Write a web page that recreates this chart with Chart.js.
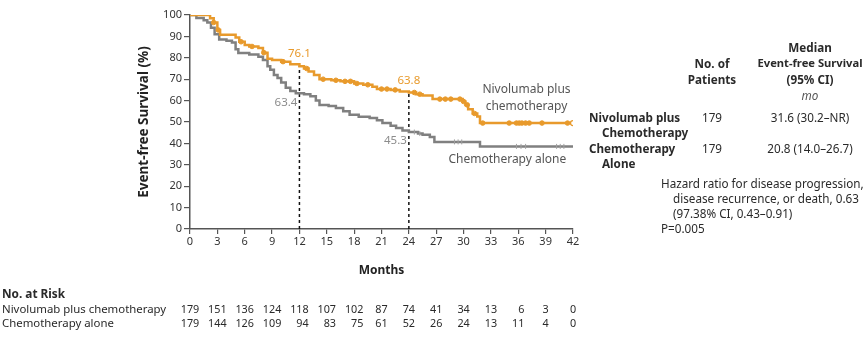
<!DOCTYPE html>
<html>
<head>
<meta charset="utf-8">
<script src="https://cdn.jsdelivr.net/npm/chart.js@4.4.1/dist/chart.umd.min.js"></script>
<style>
  html, body { margin: 0; padding: 0; background: #fff; }
  #wrap { position: relative; width: 865px; height: 338px; overflow: hidden; font-family: "Noto Sans", sans-serif; color: #2a2a2a; }
  #chart { position: absolute; left: 0; top: 0; }
  .t { position: absolute; font-size: 11.7px; line-height: 14px; white-space: nowrap; }
  .b { font-weight: bold; }
  .col { position: absolute; transform: translateX(-50%); text-align: right; font-size: 10.8px; line-height: 14px; white-space: nowrap; }
</style>
</head>
<body>
<div id="wrap">
  <canvas id="chart" width="865" height="338"></canvas>
</div>
<script>
// Kaplan-Meier steps: [month, event-free survival %]
const nivoCurve = [
  [0, 100], [2.2, 98.5], [2.6, 96.5], [3.0, 93], [3.3, 90.8], [5.0, 89.5], [5.4, 87.5],
  [6.0, 86], [6.5, 85.3], [7.5, 84.6], [8.0, 82.4], [8.5, 79.5], [9.0, 79], [10.0, 78.2],
  [11.0, 77], [12.0, 76.1], [12.5, 75], [13.0, 73.6], [13.6, 72], [14.2, 70], [15.5, 69.5],
  [16.5, 69], [18.0, 68], [19.0, 67.4], [20.0, 66.5], [20.5, 65.4], [22.0, 65], [23.0, 64.2],
  [24.0, 63.8], [24.8, 63], [25.5, 62.4], [26.6, 60.7], [29.9, 59.6], [30.2, 58], [30.5, 56],
  [31.0, 54], [31.5, 52.6], [31.8, 49.5], [42, 49.5]
];
const chemoCurve = [
  [0, 100], [0.7, 98.6], [1.5, 97.5], [1.9, 96.5], [2.3, 94], [2.7, 91], [3.2, 88.6],
  [4.0, 88], [4.6, 87.2], [5.0, 84], [5.3, 82.2], [6.5, 81.5], [7.5, 80.5], [8.0, 79],
  [8.5, 76], [8.8, 74.4], [9.2, 72], [9.6, 70.6], [10.0, 68.5], [10.5, 66], [11.0, 64.5],
  [11.6, 63.4], [12.5, 63], [13.2, 62], [13.8, 60], [14.2, 58], [15.2, 57.5], [16.0, 56.5],
  [16.8, 55], [17.5, 53.4], [18.5, 52.5], [19.7, 51.9], [20.5, 50.8], [21.1, 49.5],
  [22.0, 48.3], [22.6, 47.2], [23.3, 46], [24.0, 45.3], [25.0, 44.6], [25.5, 44], [26.3, 43],
  [26.8, 40.7], [31.8, 38.6], [42, 38.6]
];
// censoring marks
const nivoCensored = [
  [2.6, 96.5], [3.1, 93], [5.6, 87.5], [6.8, 85.3], [8.1, 82.4], [10.2, 78.2], [12.8, 75],
  [14.6, 70], [16.0, 69.5], [17.0, 69], [17.6, 69], [18.3, 68], [19.5, 67.4], [21.0, 65.4],
  [21.6, 65.4], [22.5, 65], [24.6, 63.8], [25.2, 63], [27.4, 60.7], [28.0, 60.7], [28.6, 60.7],
  [29.6, 60.7], [30.0, 59.6], [30.4, 58], [31.2, 54], [32.1, 49.5], [35.0, 49.5], [35.8, 49.5],
  [36.1, 49.5], [36.4, 49.5], [36.8, 49.5], [37.2, 49.5], [38.6, 49.5], [41.4, 49.5]
];
const nivoCensoredOpen = [[42, 49.5]];
const chemoCensored = [
  [24.6, 45.3], [25.2, 44.6], [29.0, 40.7], [29.4, 40.7], [29.8, 40.7], [35.8, 38.6],
  [36.3, 38.6], [36.8, 38.6], [40.2, 38.6], [40.6, 38.6], [41.0, 38.6]
];
// landmark estimates
const landmarkMonths = [12, 24];
const nivoLandmarks = [76.1, 63.8];
const chemoLandmarks = [63.4, 45.3];

const monthTicks = [0, 3, 6, 9, 12, 15, 18, 21, 24, 27, 30, 33, 36, 39, 42];
const survivalTicks = [0, 10, 20, 30, 40, 50, 60, 70, 80, 90, 100];

// numbers at risk
const riskGroups = ["Nivolumab plus chemotherapy", "Chemotherapy alone"];
const nivoAtRisk = [179, 151, 136, 124, 118, 107, 102, 87, 74, 41, 34, 13, 6, 3, 0];
const chemoAtRisk = [179, 144, 126, 109, 94, 83, 75, 61, 52, 26, 24, 13, 11, 4, 0];

const ORANGE = "#e89a2c";
const GRAY = "#808080";
const INK = "#333";
const FONT = "'Noto Sans', sans-serif";

const toXY = (arr) => arr.map(([x, y]) => ({ x, y }));

const landmarkLines = landmarkMonths.map((m, i) => ({
  type: "line",
  data: [{ x: m, y: 0 }, { x: m, y: Math.max(nivoLandmarks[i], chemoLandmarks[i]) }],
  borderColor: "#111",
  borderWidth: 1.5,
  borderDash: [3, 3],
  pointRadius: 0,
  order: 5
}));

const labelPlugin = {
  id: "kmLabels",
  afterDatasetsDraw(chart) {
    const { ctx, scales: { x, y } } = chart;
    ctx.save();
    ctx.font = "11.5px " + FONT;
    ctx.textBaseline = "middle";
    landmarkMonths.forEach((m, i) => {
      ctx.fillStyle = ORANGE;
      ctx.textAlign = "center";
      ctx.fillText(nivoLandmarks[i].toFixed(1), x.getPixelForValue(m), y.getPixelForValue(nivoLandmarks[i]) - 12);
      ctx.fillStyle = "#8c8c8c";
      ctx.textAlign = "right";
      ctx.fillText(chemoLandmarks[i].toFixed(1), x.getPixelForValue(m) - 2, y.getPixelForValue(chemoLandmarks[i]) + 9);
    });
    ctx.font = "12px " + FONT;
    ctx.fillStyle = "#555";
    ctx.textAlign = "center";
    ctx.fillText("Nivolumab plus", x.getPixelForValue(36.9), y.getPixelForValue(65.1));
    ctx.fillText("chemotherapy", x.getPixelForValue(36.9), y.getPixelForValue(57.1));
    ctx.fillText("Chemotherapy alone", x.getPixelForValue(34.8), y.getPixelForValue(32.4));
    ctx.restore();
  }
};

const chart = new Chart(document.getElementById("chart"), {
  type: "line",
  data: {
    datasets: [
      {
        data: toXY(nivoCurve),
        borderColor: ORANGE,
        borderWidth: 2.5,
        stepped: true,
        pointRadius: 0,
        order: 2
      },
      {
        data: toXY(chemoCurve),
        borderColor: GRAY,
        borderWidth: 2.5,
        stepped: true,
        pointRadius: 0,
        order: 3
      },
      {
        type: "scatter",
        data: toXY(nivoCensored),
        pointStyle: "circle",
        pointRadius: 2.3,
        backgroundColor: ORANGE,
        borderColor: ORANGE,
        borderWidth: 1,
        order: 1
      },
      {
        type: "scatter",
        data: toXY(nivoCensoredOpen),
        pointStyle: "circle",
        pointRadius: 2.5,
        backgroundColor: "#fff",
        borderColor: ORANGE,
        borderWidth: 1.3,
        order: 1
      },
      {
        type: "scatter",
        data: toXY(chemoCensored),
        pointStyle: "line",
        rotation: 90,
        pointRadius: 2.5,
        borderColor: "#a0a0a0",
        borderWidth: 1,
        order: 1
      },
      ...landmarkLines
    ]
  },
  options: {
    responsive: false,
    animation: false,
    events: [],
    layout: { padding: { left: 130, top: 15, right: 292, bottom: 59 } },
    plugins: { legend: { display: false }, tooltip: { enabled: false } },
    scales: {
      x: {
        type: "linear",
        min: 0,
        max: 42,
        afterBuildTicks: (scale) => { scale.ticks = monthTicks.map((v) => ({ value: v })); },
        afterFit: (scale) => { scale.height = 50; },
        ticks: { color: INK, font: { family: FONT, size: 11 }, padding: 1, maxRotation: 0 },
        grid: { drawOnChartArea: false, tickLength: 5, color: "#555", lineWidth: 1.2 },
        border: { color: "#555", width: 1.5 },
        title: { display: true, text: "Months", color: "#222", font: { family: FONT, size: 12, weight: "bold" }, padding: { top: 0, bottom: 1 } }
      },
      y: {
        min: 0,
        max: 100,
        afterBuildTicks: (scale) => { scale.ticks = survivalTicks.map((v) => ({ value: v })); },
        afterFit: (scale) => { scale.width = 60; },
        ticks: { color: INK, font: { family: FONT, size: 11 }, padding: 2 },
        grid: { drawOnChartArea: false, tickLength: 6, color: "#555", lineWidth: 1.2 },
        border: { color: "#555", width: 1.5 },
        title: { display: true, text: "Event-free Survival (%)", color: "#222", font: { family: FONT, size: 13.5, weight: "bold" }, padding: { top: 6, bottom: 0 } }
      }
    }
  },
  plugins: [labelPlugin]
});

// text outside the plot
const wrap = document.getElementById("wrap");
function put(text, x, y, align, cls, extra) {
  const d = document.createElement("div");
  d.className = "t " + (cls || "");
  d.textContent = text;
  d.style.top = (y - 7) + "px";
  if (align === "center") {
    d.style.left = (x - 150) + "px";
    d.style.width = "300px";
    d.style.textAlign = "center";
  } else {
    d.style.left = x + "px";
  }
  if (extra) Object.assign(d.style, extra);
  wrap.appendChild(d);
}

// summary table
put("No. of", 712, 63, "center", "b");
put("Patients", 712, 79, "center", "b");
put("Median", 810, 47, "center", "b");
put("Event-free Survival", 810, 63, "center", "b", { fontSize: "11.2px" });
put("(95% CI)", 810, 79, "center", "b");
put("mo", 810, 95, "center", "", { fontStyle: "italic", color: "#555" });
put("Nivolumab plus", 589, 117, "left", "b");
put("Chemotherapy", 602, 132, "left", "b");
put("179", 712, 117, "center");
put("31.6 (30.2–NR)", 810, 117, "center");
put("Chemotherapy", 589, 148, "left", "b");
put("Alone", 602, 163, "left", "b");
put("179", 712, 148, "center");
put("20.8 (14.0–26.7)", 810, 148, "center");
put("Hazard ratio for disease progression,", 661, 183, "left");
put("disease recurrence, or death, 0.63", 673, 198, "left");
put("(97.38% CI, 0.43–0.91)", 673, 213, "left");
put("P=0.005", 661, 228, "left");

// numbers at risk, one column under each month tick
const RISK_Y = 309;
put("No. at Risk", 2, 293, "left", "b", { fontSize: "11.8px" });
riskGroups.forEach((g, r) => put(g, 2, RISK_Y + r * 14, "left", "", { fontSize: "11.4px" }));
monthTicks.forEach((m, i) => {
  const col = document.createElement("div");
  col.className = "col";
  col.style.left = chart.scales.x.getPixelForValue(m) + "px";
  col.style.top = (RISK_Y - 7) + "px";
  col.innerHTML = nivoAtRisk[i] + "<br>" + chemoAtRisk[i];
  wrap.appendChild(col);
});
</script>
</body>
</html>
